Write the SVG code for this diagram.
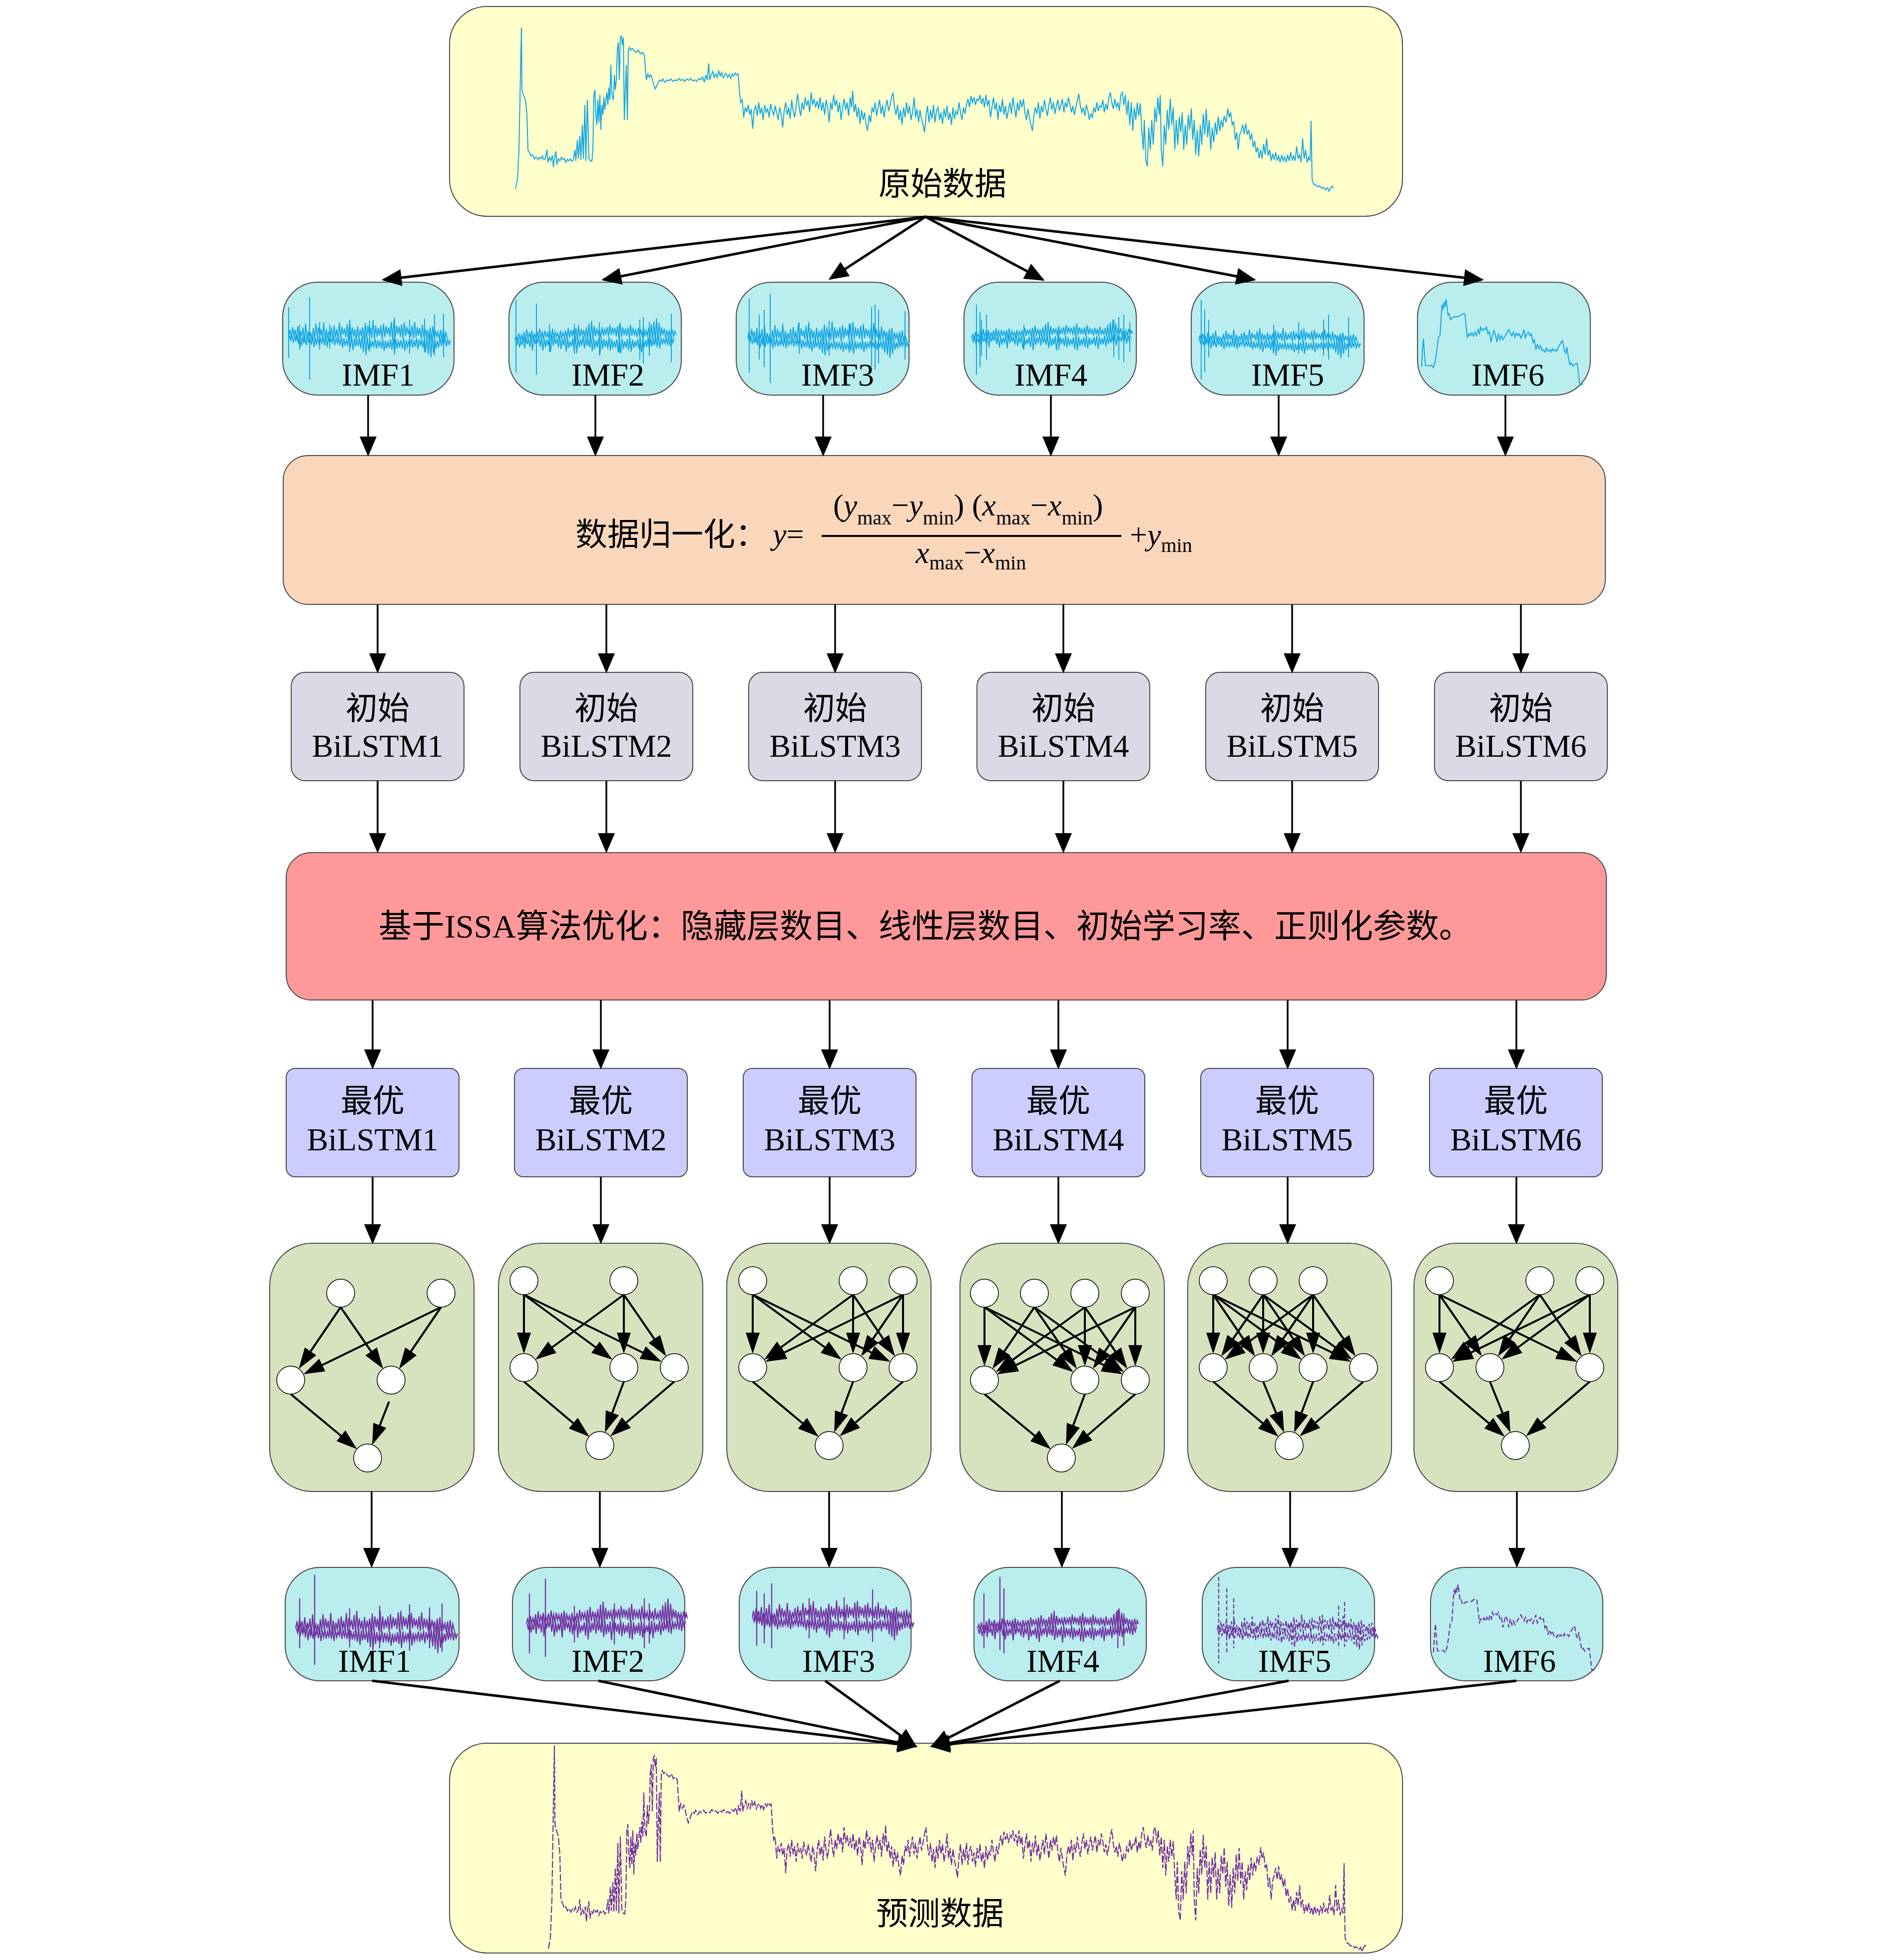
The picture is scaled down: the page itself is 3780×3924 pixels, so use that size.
<svg xmlns="http://www.w3.org/2000/svg" xmlns:xlink="http://www.w3.org/1999/xlink" width="3780" height="3924" viewBox="0 0 3780 3924">
<defs>
<style>
.box{stroke:#4a4a4a;stroke-width:2}
.yel{fill:#FFFFCC}.cyan{fill:#BAEDED}.peach{fill:#FAD7BB}.lav{fill:#DCD8E6}.red{fill:#FF9999}.blu{fill:#CCCCFF}.grn{fill:#D7E3BF}
.t{font-family:"Liberation Serif","Noto Sans CJK SC",serif;fill:#000}
.c{text-anchor:middle}
.i{font-style:italic}
.wb{fill:none;stroke:#12A5E3;stroke-width:2}
.wp{fill:none;stroke:#7030A0;stroke-width:2.2}
.node{fill:#fff;stroke:#000;stroke-width:1.5}
.nn line{stroke:#000;stroke-width:4}
.conn line{stroke:#000;stroke-width:3.5}
.conn .k{stroke-width:5}
</style>
<marker id="ah" markerUnits="userSpaceOnUse" markerWidth="40" markerHeight="34" refX="36" refY="17" orient="auto"><path d="M0,0 L40,17 L0,34 z" fill="#000"/></marker>
<marker id="nh" markerUnits="userSpaceOnUse" markerWidth="42" markerHeight="28" refX="37" refY="14" orient="auto"><path d="M0,0 L42,14 L0,28 z" fill="#000"/></marker>
<path id="n1" d="M0,0l2.6,-10 2.6,14 2.6,-18 2.6,12 2.6,-8 2.6,16 2.6,-22 2.6,20 2.6,-12 2.6,9 2.6,-15 2.6,24 2.6,-30 2.6,26 2.6,-14 2.6,11 2.6,-9 2.6,13 2.6,-20 2.6,18 2.6,-25 2.6,22 2.6,-16 2.6,14 2.6,-11 2.6,17 2.6,-28 2.6,30 2.6,-19 2.6,15 2.6,-12 2.6,10 2.6,-16 2.6,21 2.6,-24 2.6,19 2.6,-13 2.6,16 2.6,-27 2.6,25 2.6,-18 2.6,12 2.6,-9 2.6,14 2.6,-21 2.6,26 2.6,-32 2.6,28 2.6,-17 2.6,15 2.6,-12 2.6,18 2.6,-23 2.6,20 2.6,-15 2.6,11 2.6,-14 2.6,19 2.6,-26 2.6,24 2.6,-20 2.6,16 2.6,-13 2.6,17 2.6,-29 2.6,31 2.6,-22 2.6,18 2.6,-14 2.6,12 2.6,-16 2.6,22 2.6,-25 2.6,21 2.6,-17 2.6,13 2.6,-11 2.6,15 2.6,-24 2.6,28 2.6,-30 2.6,27 2.6,-19 2.6,14 2.6,-12 2.6,16 2.6,-20 2.6,23 2.6,-26 2.6,22 2.6,-15 2.6,12 2.6,-10 2.6,14 2.6,-18 2.6,21 2.6,-27 2.6,25 2.6,-16 2.6,13 2.6,-12 2.6,17 2.6,-22 2.6,20 2.6,-14 2.6,11 2.6,-9 2.6,15 2.6,-19 2.6,22 2.6,-24 2.6,20 2.6,-13 2.6,10 2.6,-8 2.6,12 2.6,-15 2.6,18 2.6,-20 2.6,17 2.6,-11 2.6,9"/>
<path id="n2" d="M0,0l2.6,-6 2.6,8 2.6,-12 2.6,10 2.6,-7 2.6,9 2.6,-14 2.6,16 2.6,-20 2.6,15 2.6,-9 2.6,7 2.6,-11 2.6,13 2.6,-8 2.6,6 2.6,-10 2.6,12 2.6,-16 2.6,14 2.6,-9 2.6,11 2.6,-13 2.6,10 2.6,-7 2.6,9 2.6,-12 2.6,15 2.6,-18 2.6,16 2.6,-11 2.6,8 2.6,-6 2.6,10 2.6,-14 2.6,12 2.6,-9 2.6,7 2.6,-10 2.6,13 2.6,-17 2.6,15 2.6,-12 2.6,9 2.6,-8 2.6,11 2.6,-15 2.6,18 2.6,-22 2.6,19 2.6,-13 2.6,10 2.6,-9 2.6,12 2.6,-16 2.6,20 2.6,-26 2.6,30 2.6,-34 2.6,28 2.6,-20 2.6,16 2.6,-12 2.6,9 2.6,-8 2.6,12 2.6,-15 2.6,13 2.6,-10 2.6,8 2.6,-11 2.6,14 2.6,-18 2.6,16 2.6,-12 2.6,10 2.6,-9 2.6,13 2.6,-16 2.6,19 2.6,-24 2.6,22 2.6,-15 2.6,11 2.6,-8 2.6,10 2.6,-13 2.6,16 2.6,-20 2.6,17 2.6,-11 2.6,9 2.6,-7 2.6,11 2.6,-14 2.6,12 2.6,-10 2.6,13 2.6,-17 2.6,15 2.6,-9 2.6,8 2.6,-12 2.6,16 2.6,-22 2.6,26 2.6,-30 2.6,33 2.6,-38 2.6,35 2.6,-28 2.6,22 2.6,-15 2.6,12 2.6,-10 2.6,14 2.6,-12 2.6,9 2.6,-7 2.6,10 2.6,-13 2.6,11 2.6,-8 2.6,6"/>
<path id="raw" vector-effect="non-scaling-stroke" d="M1032,378 1036,360 1039,300 1042,150 1044,55 1045,180 1048,190 1052,200 1055,230 1057,300 1060,305 1063,312 1066,310 1070,318 1073,314 1077,320 1080,315 1083,318 1086,312 1089,320 1092,316 1095,300 1097,325 1100,315 1103,322 1106,311 1108,335 1110,318 1113,303 1115,330 1118,318 1121,322 1124,315 1127,320 1130,317 1133,325 1136,319 1139,322 1142,318 1145,323 1148,320 1151,300 1153,322 1156,280 1158,318 1161,272 1163,320 1166,250 1168,318 1171,210 1173,322 1176,200 1179,318 1182,322 1185,323 1187,300 1189,190 1191,180 1193,230 1195,250 1197,200 1199,245 1201,190 1203,260 1205,210 1207,230 1209,195 1211,220 1213,200 1215,185 1217,210 1219,175 1221,200 1223,130 1225,190 1228,200 1230,150 1232,180 1234,160 1236,100 1238,85 1240,160 1242,75 1244,72 1246,90 1248,75 1250,240 1252,180 1254,130 1256,240 1258,100 1260,95 1263,100 1266,97 1270,102 1274,105 1278,100 1282,108 1286,105 1290,110 1294,160 1297,148 1300,155 1303,150 1306,158 1309,170 1312,178 1315,172 1318,165 1321,160 1324,163 1327,158 1331,165 1335,160 1339,162 1343,158 1347,163 1351,160 1355,162 1359,157 1363,161 1367,159 1371,163 1375,158 1379,161 1383,157 1387,162 1391,160 1395,163 1399,157 1403,160 1407,154 1410,165 1413,150 1416,160 1419,127 1421,160 1424,150 1427,143 1430,155 1433,148 1436,155 1439,142 1442,152 1445,145 1448,156 1451,150 1454,147 1457,155 1460,149 1463,157 1466,148 1469,152 1472,146 1475,150 1478,148 1481,190 1483,205 1486,200 1489,235 1492,215 1495,225 1498,210 1501,230 1504,218 1507,258 1510,220 1513,212 1516,232 1519,205 1522,228 1525,215 1528,240 1531,210 1534,225 1537,218 1540,235 1543,208 1546,222 1549,230 1552,212 1555,226 1558,240 1561,215 1564,228 1567,255 1570,222 1573,205 1576,230 1579,215 1582,238 1585,200 1588,222 1591,235 1594,210 1597,188 1600,215 1603,232 1606,205 1609,220 1612,195 1615,212 1618,200 1621,225 1624,185 1627,210 1630,198 1633,215 1636,202 1639,218 1642,195 1645,222 1648,205 1651,230 1654,200 1657,215 1660,245 1663,205 1666,220 1669,190 1672,212 1675,200 1678,225 1681,205 1684,240 1687,215 1690,198 1693,220 1696,205 1699,232 1702,195 1705,215 1707,182 1710,225 1713,208 1716,235 1719,215 1722,248 1725,220 1728,240 1731,225 1734,250 1737,262 1740,230 1743,245 1746,215 1749,225 1752,205 1755,232 1758,215 1761,200 1764,228 1767,210 1770,235 1773,215 1776,200 1779,222 1782,210 1785,195 1788,185 1791,215 1794,230 1797,210 1800,240 1803,220 1806,250 1809,215 1812,235 1815,205 1818,228 1821,212 1824,240 1827,225 1830,195 1833,235 1836,218 1839,245 1842,220 1845,238 1848,250 1851,265 1854,232 1857,212 1860,245 1863,220 1866,238 1869,210 1872,245 1875,222 1878,215 1881,240 1884,225 1887,248 1890,218 1893,235 1896,212 1899,240 1902,225 1905,250 1908,215 1911,238 1914,222 1917,230 1920,205 1923,225 1926,240 1929,215 1932,228 1935,210 1938,198 1941,215 1944,192 1947,205 1950,195 1953,210 1956,198 1959,202 1962,190 1965,208 1968,196 1971,215 1974,190 1977,212 1980,200 1983,235 1986,215 1989,195 1992,220 1995,205 1998,240 2001,210 2004,225 2007,198 2010,230 2013,212 2016,238 2019,220 2022,205 2025,228 2028,195 2031,215 2034,235 2037,205 2040,222 2043,200 2046,215 2049,198 2052,225 2055,240 2058,218 2061,235 2064,250 2067,262 2070,230 2073,215 2076,228 2079,205 2082,238 2085,212 2088,225 2091,200 2094,218 2097,232 2100,210 2103,195 2106,220 2109,205 2112,228 2115,212 2118,200 2121,222 2124,210 2127,198 2130,225 2133,205 2136,215 2139,195 2142,208 2145,225 2148,212 2151,230 2154,215 2157,200 2160,188 2163,212 2166,225 2169,215 2172,232 2175,210 2178,222 2181,240 2184,228 2187,235 2190,215 2193,225 2196,205 2199,222 2202,212 2205,215 2208,200 2211,225 2214,208 2217,220 2220,195 2223,185 2226,205 2229,218 2232,198 2235,215 2238,205 2241,222 2244,190 2247,185 2250,210 2253,190 2256,230 2259,200 2262,250 2265,205 2268,262 2271,215 2274,240 2277,205 2280,232 2283,207 2286,260 2289,300 2291,240 2294,320 2297,333 2300,255 2303,300 2306,240 2309,290 2312,215 2315,245 2318,195 2321,230 2323,190 2325,300 2328,333 2331,250 2334,290 2337,220 2340,260 2343,197 2346,250 2349,215 2352,300 2355,240 2358,290 2361,233 2364,265 2367,225 2370,300 2373,250 2376,290 2379,230 2382,260 2385,217 2388,280 2391,240 2394,310 2397,260 2400,313 2403,250 2406,290 2409,228 2412,270 2415,218 2418,275 2421,240 2424,300 2427,255 2430,285 2433,245 2436,270 2439,233 2442,262 2445,240 2448,255 2451,232 2455,245 2458,217 2461,235 2464,225 2467,250 2470,243 2473,280 2476,265 2479,300 2482,270 2485,262 2488,250 2491,268 2494,247 2497,270 2500,260 2503,280 2506,267 2509,295 2512,282 2515,305 2518,295 2521,317 2524,300 2527,318 2530,288 2533,310 2536,277 2539,312 2542,300 2545,322 2548,308 2551,320 2554,305 2557,322 2560,312 2563,325 2566,310 2569,322 2572,314 2575,325 2578,310 2581,322 2584,305 2587,320 2590,312 2593,322 2596,293 2599,318 2602,310 2605,325 2608,277 2611,318 2614,300 2617,325 2620,315 2623,322 2625,242 2627,360 2630,368 2634,370 2638,374 2642,372 2646,377 2650,375 2654,380 2658,376 2661,383 2664,376 2667,373 2670,377"/>
<path id="trend" d="M2846,735 2848,700 2850,678 2852,710 2854,732 2860,733 2866,731 2870,736 2873,725 2876,707 2878,690 2880,675 2883,672 2885,640 2887,610 2889,620 2891,605 2893,615 2895,599 2897,612 2899,630 2901,628 2904,640 2908,636 2912,634 2918,634 2922,633 2926,630 2929,628 2933,629 2935,650 2938,675 2941,668 2944,672 2947,666 2950,673 2953,665 2956,672 2959,660 2962,668 2964,655 2967,662 2970,658 2973,660 2976,655 2979,668 2982,664 2985,685 2988,672 2991,662 2994,670 2997,685 3000,668 3003,680 3006,672 3009,680 3012,675 3015,670 3018,664 3021,660 3024,667 3027,672 3030,665 3033,675 3036,667 3039,672 3042,668 3045,677 3048,670 3051,660 3054,676 3057,668 3060,665 3063,672 3066,668 3069,686 3072,680 3075,700 3078,690 3081,698 3084,692 3087,702 3090,700 3093,705 3096,697 3099,703 3102,700 3105,705 3108,698 3111,703 3114,700 3117,703 3120,695 3123,690 3126,685 3128,682 3130,690 3132,702 3135,707 3137,695 3140,715 3143,730 3146,727 3149,733 3152,730 3155,728 3158,727 3160,745 3163,770 3166,771 3170,768"/>
</defs>

<!-- raw data -->
<g id="raw-data">
<rect class="box yel" x="900" y="13" width="1908" height="420" rx="75" ry="75"/>
<use href="#raw" class="wb"/>
<text class="t c" x="1887" y="390" font-size="64">原始数据</text>
</g>

<!-- top IMFs -->
<g id="imf1-top">
<rect class="box cyan" x="566" y="565" width="343" height="226" rx="70" ry="70"/>
<g class="wb"><use href="#n1" transform="translate(578,673) scale(1,1.25)"/><use href="#n2" transform="translate(579.3,673) scale(1,-1.3)"/><path d="M620,595V760M578,615V717M888,628V715M600,650V700M700,640V705M790,635V710M850,638V706M640,645V700M660,650V698M740,642V704M820,640V708M870,630V712"/></g>
<text class="t c" x="757" y="772" font-size="64">IMF1</text>
</g>
<g id="imf2-top">
<rect class="box cyan" x="1019" y="565" width="345" height="226" rx="70" ry="70"/>
<g class="wb"><use href="#n2" transform="translate(1031,680) scale(1,1.3)"/><use href="#n1" transform="translate(1032.3,680) scale(1,-1.1)"/><path d="M1074,608V750M1033,600V745M1281,640V720M1288,635V728M1344,628V725M1300,645V712M1100,650V705M1150,648V708M1200,645V712M1240,650V706"/></g>
<text class="t c" x="1217" y="772" font-size="64">IMF2</text>
</g>
<g id="imf3-top">
<rect class="box cyan" x="1474" y="565" width="346" height="226" rx="70" ry="70"/>
<g class="wb"><use href="#n1" transform="translate(1497,677) scale(1,1.3)"/><use href="#n2" transform="translate(1498.3,677) scale(1,-1.2)"/><path d="M1542,588V767M1500,598V746M1745,615V733M1752,610V740M1759,620V728M1812,623V720M1520,630V720M1530,620V735M1600,645V708M1660,642V712M1700,648V706"/></g>
<text class="t c" x="1677" y="772" font-size="64">IMF3</text>
</g>
<g id="imf4-top">
<rect class="box cyan" x="1930" y="565" width="345" height="226" rx="70" ry="70"/>
<g class="wb"><use href="#n2" transform="translate(1945,676) scale(1,1.1)"/><use href="#n1" transform="translate(1946.3,676) scale(1,-1)"/><path d="M1955,610V750M1962,625V735M1975,630V720M1965,640V712M2230,640V715M2240,635V720M2250,630V725M2262,645V705M2050,650V700M2120,652V700"/></g>
<text class="t c" x="2104" y="772" font-size="64">IMF4</text>
</g>
<g id="imf5-top">
<rect class="box cyan" x="2385" y="565" width="346" height="226" rx="70" ry="70"/>
<g class="wb"><use href="#n1" transform="translate(2400,680) scale(1,0.9)"/><use href="#n2" transform="translate(2401.3,680) scale(1,-1.1)"/><path d="M2405,600V760M2412,620V745M2420,640V715M2650,640V712M2660,630V720M2700,635V715M2550,650V705M2600,645V708"/></g>
<text class="t c" x="2578" y="772" font-size="64">IMF5</text>
</g>
<g id="imf6-top">
<rect class="box cyan" x="2838" y="565" width="346" height="226" rx="70" ry="70"/>
<use href="#trend" class="wb"/>
<text class="t c" x="3019" y="772" font-size="64">IMF6</text>
</g>

<!-- normalization -->
<g id="normalize">
<rect class="box peach" x="567" y="912" width="2647" height="298" rx="50" ry="50"/>
<text class="t" x="1152" y="1092" font-size="64">数据归一化：</text>
<text class="t" x="1547" y="1090" font-size="62"><tspan class="i">y</tspan>=</text>
<text class="t" x="1668" y="1032" font-size="62">(<tspan class="i">y</tspan><tspan y="1050" font-size="40">max</tspan><tspan y="1032">−</tspan><tspan class="i">y</tspan><tspan y="1050" font-size="40">min</tspan><tspan y="1032">) (</tspan><tspan class="i">x</tspan><tspan y="1050" font-size="40">max</tspan><tspan y="1032">−</tspan><tspan class="i">x</tspan><tspan y="1050" font-size="40">min</tspan><tspan y="1032">)</tspan></text>
<line x1="1645" y1="1073" x2="2245" y2="1073" stroke="#000" stroke-width="4"/>
<text class="t" x="1833" y="1127" font-size="62"><tspan class="i">x</tspan><tspan y="1140" font-size="40">max</tspan><tspan y="1127">−</tspan><tspan class="i">x</tspan><tspan y="1140" font-size="40">min</tspan></text>
<text class="t" x="2262" y="1091" font-size="62">+<tspan class="i">y</tspan><tspan y="1105" font-size="40">min</tspan></text>
</g>

<!-- initial BiLSTM -->
<g id="init1"><rect class="box lav" x="583" y="1346" width="346" height="217" rx="28" ry="28"/><text class="t c" x="756" y="1440" font-size="64">初始</text><text class="t c" x="756" y="1515" font-size="64">BiLSTM1</text></g>
<g id="init2"><rect class="box lav" x="1041" y="1346" width="346" height="217" rx="28" ry="28"/><text class="t c" x="1214" y="1440" font-size="64">初始</text><text class="t c" x="1214" y="1515" font-size="64">BiLSTM2</text></g>
<g id="init3"><rect class="box lav" x="1499" y="1346" width="346" height="217" rx="28" ry="28"/><text class="t c" x="1672" y="1440" font-size="64">初始</text><text class="t c" x="1672" y="1515" font-size="64">BiLSTM3</text></g>
<g id="init4"><rect class="box lav" x="1956" y="1346" width="346" height="217" rx="28" ry="28"/><text class="t c" x="2129" y="1440" font-size="64">初始</text><text class="t c" x="2129" y="1515" font-size="64">BiLSTM4</text></g>
<g id="init5"><rect class="box lav" x="2414" y="1346" width="346" height="217" rx="28" ry="28"/><text class="t c" x="2587" y="1440" font-size="64">初始</text><text class="t c" x="2587" y="1515" font-size="64">BiLSTM5</text></g>
<g id="init6"><rect class="box lav" x="2872" y="1346" width="346" height="217" rx="28" ry="28"/><text class="t c" x="3045" y="1440" font-size="64">初始</text><text class="t c" x="3045" y="1515" font-size="64">BiLSTM6</text></g>

<!-- ISSA optimisation -->
<g id="issa">
<rect class="box red" x="573" y="1707" width="2643" height="295" rx="50" ry="50"/>
<text class="t" x="758" y="1877" font-size="66">基于ISSA算法优化：隐藏层数目、线性层数目、初始学习率、正则化参数。</text>
</g>

<!-- optimal BiLSTM -->
<g id="opt1"><rect class="box blu" x="573" y="2139" width="346" height="217" rx="18" ry="18"/><text class="t c" x="746" y="2226" font-size="64">最优</text><text class="t c" x="746" y="2303" font-size="64">BiLSTM1</text></g>
<g id="opt2"><rect class="box blu" x="1030" y="2139" width="346" height="217" rx="18" ry="18"/><text class="t c" x="1203" y="2226" font-size="64">最优</text><text class="t c" x="1203" y="2303" font-size="64">BiLSTM2</text></g>
<g id="opt3"><rect class="box blu" x="1488" y="2139" width="346" height="217" rx="18" ry="18"/><text class="t c" x="1661" y="2226" font-size="64">最优</text><text class="t c" x="1661" y="2303" font-size="64">BiLSTM3</text></g>
<g id="opt4"><rect class="box blu" x="1946" y="2139" width="346" height="217" rx="18" ry="18"/><text class="t c" x="2119" y="2226" font-size="64">最优</text><text class="t c" x="2119" y="2303" font-size="64">BiLSTM4</text></g>
<g id="opt5"><rect class="box blu" x="2404" y="2139" width="346" height="217" rx="18" ry="18"/><text class="t c" x="2577" y="2226" font-size="64">最优</text><text class="t c" x="2577" y="2303" font-size="64">BiLSTM5</text></g>
<g id="opt6"><rect class="box blu" x="2862" y="2139" width="346" height="217" rx="18" ry="18"/><text class="t c" x="3035" y="2226" font-size="64">最优</text><text class="t c" x="3035" y="2303" font-size="64">BiLSTM6</text></g>

<!-- network illustrations -->
<g id="net1">
<rect class="box grn" x="540" y="2489" width="409" height="497" rx="85" ry="85"/>
<g class="nn" marker-end="url(#nh)">
<line x1="682" y1="2617" x2="601" y2="2736"/><line x1="682" y1="2617" x2="764" y2="2736"/><line x1="883" y1="2617" x2="612" y2="2749"/><line x1="883" y1="2617" x2="802" y2="2736"/><line x1="582" y1="2791" x2="711" y2="2898"/><line x1="779" y1="2806" x2="747" y2="2888"/>
</g>
<circle class="node" cx="682" cy="2589" r="28"/><circle class="node" cx="883" cy="2589" r="28"/><circle class="node" cx="582" cy="2763" r="28"/><circle class="node" cx="783" cy="2763" r="28"/><circle class="node" cx="736" cy="2919" r="28"/>
</g>
<g id="net2">
<rect class="box grn" x="998" y="2489" width="409" height="497" rx="85" ry="85"/>
<g class="nn" marker-end="url(#nh)">
<line x1="1049" y1="2592" x2="1049" y2="2705"/><line x1="1049" y1="2592" x2="1222" y2="2719"/><line x1="1049" y1="2592" x2="1320" y2="2724"/><line x1="1249" y1="2592" x2="1076" y2="2719"/><line x1="1249" y1="2592" x2="1249" y2="2705"/><line x1="1249" y1="2592" x2="1331" y2="2711"/><line x1="1049" y1="2766" x2="1176" y2="2873"/><line x1="1249" y1="2766" x2="1213" y2="2863"/><line x1="1350" y1="2766" x2="1226" y2="2872"/>
</g>
<circle class="node" cx="1049" cy="2564" r="28"/><circle class="node" cx="1249" cy="2564" r="28"/><circle class="node" cx="1049" cy="2738" r="28"/><circle class="node" cx="1249" cy="2738" r="28"/><circle class="node" cx="1350" cy="2738" r="28"/><circle class="node" cx="1201" cy="2894" r="28"/>
</g>
<g id="net3">
<rect class="box grn" x="1455" y="2489" width="409" height="497" rx="85" ry="85"/>
<g class="nn" marker-end="url(#nh)">
<line x1="1507" y1="2592" x2="1507" y2="2705"/><line x1="1507" y1="2592" x2="1681" y2="2719"/><line x1="1507" y1="2592" x2="1778" y2="2724"/><line x1="1708" y1="2592" x2="1534" y2="2719"/><line x1="1708" y1="2592" x2="1708" y2="2705"/><line x1="1708" y1="2592" x2="1789" y2="2711"/><line x1="1808" y1="2592" x2="1537" y2="2724"/><line x1="1808" y1="2592" x2="1727" y2="2711"/><line x1="1808" y1="2592" x2="1808" y2="2705"/><line x1="1507" y1="2766" x2="1635" y2="2873"/><line x1="1708" y1="2766" x2="1672" y2="2863"/><line x1="1808" y1="2766" x2="1685" y2="2872"/>
</g>
<circle class="node" cx="1507" cy="2564" r="28"/><circle class="node" cx="1708" cy="2564" r="28"/><circle class="node" cx="1808" cy="2564" r="28"/><circle class="node" cx="1507" cy="2738" r="28"/><circle class="node" cx="1708" cy="2738" r="28"/><circle class="node" cx="1808" cy="2738" r="28"/><circle class="node" cx="1660" cy="2894" r="28"/>
</g>
<g id="net4">
<rect class="box grn" x="1922" y="2489" width="409" height="497" rx="85" ry="85"/>
<g class="nn" marker-end="url(#nh)">
<line x1="1971" y1="2617" x2="1971" y2="2730"/><line x1="1971" y1="2617" x2="2145" y2="2744"/><line x1="1971" y1="2617" x2="2243" y2="2749"/><line x1="2071" y1="2617" x2="1990" y2="2736"/><line x1="2071" y1="2617" x2="2153" y2="2736"/><line x1="2071" y1="2617" x2="2246" y2="2744"/><line x1="2172" y1="2617" x2="1998" y2="2744"/><line x1="2172" y1="2617" x2="2172" y2="2730"/><line x1="2172" y1="2617" x2="2254" y2="2736"/><line x1="2273" y1="2617" x2="2001" y2="2749"/><line x1="2273" y1="2617" x2="2191" y2="2736"/><line x1="2273" y1="2617" x2="2273" y2="2730"/><line x1="1971" y1="2791" x2="2100" y2="2898"/><line x1="2172" y1="2791" x2="2136" y2="2888"/><line x1="2273" y1="2791" x2="2150" y2="2897"/>
</g>
<circle class="node" cx="1971" cy="2589" r="28"/><circle class="node" cx="2071" cy="2589" r="28"/><circle class="node" cx="2172" cy="2589" r="28"/><circle class="node" cx="2273" cy="2589" r="28"/><circle class="node" cx="1971" cy="2763" r="28"/><circle class="node" cx="2172" cy="2763" r="28"/><circle class="node" cx="2273" cy="2763" r="28"/><circle class="node" cx="2125" cy="2919" r="28"/>
</g>
<g id="net5">
<rect class="box grn" x="2378" y="2489" width="408" height="497" rx="85" ry="85"/>
<g class="nn" marker-end="url(#nh)">
<line x1="2429" y1="2592" x2="2429" y2="2705"/><line x1="2429" y1="2592" x2="2510" y2="2711"/><line x1="2429" y1="2592" x2="2602" y2="2719"/><line x1="2429" y1="2592" x2="2700" y2="2724"/><line x1="2529" y1="2592" x2="2448" y2="2711"/><line x1="2529" y1="2592" x2="2529" y2="2705"/><line x1="2529" y1="2592" x2="2610" y2="2711"/><line x1="2529" y1="2592" x2="2703" y2="2719"/><line x1="2629" y1="2592" x2="2456" y2="2719"/><line x1="2629" y1="2592" x2="2548" y2="2711"/><line x1="2629" y1="2592" x2="2629" y2="2705"/><line x1="2629" y1="2592" x2="2711" y2="2711"/><line x1="2429" y1="2766" x2="2556" y2="2873"/><line x1="2529" y1="2766" x2="2569" y2="2863"/><line x1="2629" y1="2766" x2="2593" y2="2863"/><line x1="2730" y1="2766" x2="2606" y2="2872"/>
</g>
<circle class="node" cx="2429" cy="2564" r="28"/><circle class="node" cx="2529" cy="2564" r="28"/><circle class="node" cx="2629" cy="2564" r="28"/><circle class="node" cx="2429" cy="2738" r="28"/><circle class="node" cx="2529" cy="2738" r="28"/><circle class="node" cx="2629" cy="2738" r="28"/><circle class="node" cx="2730" cy="2738" r="28"/><circle class="node" cx="2581" cy="2894" r="28"/>
</g>
<g id="net6">
<rect class="box grn" x="2831" y="2489" width="408" height="497" rx="85" ry="85"/>
<g class="nn" marker-end="url(#nh)">
<line x1="2882" y1="2592" x2="2882" y2="2705"/><line x1="2882" y1="2592" x2="2964" y2="2711"/><line x1="2882" y1="2592" x2="3153" y2="2724"/><line x1="3083" y1="2592" x2="2909" y2="2719"/><line x1="3083" y1="2592" x2="3002" y2="2711"/><line x1="3083" y1="2592" x2="3164" y2="2711"/><line x1="3183" y1="2592" x2="2912" y2="2724"/><line x1="3183" y1="2592" x2="3010" y2="2719"/><line x1="3183" y1="2592" x2="3183" y2="2705"/><line x1="2882" y1="2766" x2="3009" y2="2873"/><line x1="2983" y1="2766" x2="3022" y2="2863"/><line x1="3183" y1="2766" x2="3059" y2="2872"/>
</g>
<circle class="node" cx="2882" cy="2564" r="28"/><circle class="node" cx="3083" cy="2564" r="28"/><circle class="node" cx="3183" cy="2564" r="28"/><circle class="node" cx="2882" cy="2738" r="28"/><circle class="node" cx="2983" cy="2738" r="28"/><circle class="node" cx="3183" cy="2738" r="28"/><circle class="node" cx="3034" cy="2894" r="28"/>
</g>

<!-- output IMFs -->
<g id="imf1-out">
<rect class="box cyan" x="571" y="3138" width="348" height="227" rx="70" ry="70"/>
<g class="wp"><use href="#n1" transform="translate(592,3260) scale(1,1.4)"/><use href="#n2" transform="translate(593.3,3260) scale(1,-1.5)"/><path d="M630,3153V3333M885,3210V3307M600,3200V3300M760,3215V3300M700,3220V3298M820,3212V3305M860,3218V3300"/></g>
<text class="t c" x="750" y="3347" font-size="64">IMF1</text>
</g>
<g id="imf2-out">
<rect class="box cyan" x="1026" y="3138" width="345" height="227" rx="70" ry="70"/>
<g class="wp"><use href="#n2" transform="translate(1054,3250) scale(1,1.5)"/><use href="#n1" transform="translate(1055.3,3250) scale(1,-1.3)"/><path d="M1092,3160V3317M1290,3200V3300M1060,3190V3310M1300,3210V3290M1150,3215V3288M1230,3210V3292"/></g>
<text class="t c" x="1217" y="3347" font-size="64">IMF2</text>
</g>
<g id="imf3-out">
<rect class="box cyan" x="1480" y="3138" width="344" height="227" rx="70" ry="70"/>
<g class="wp"><use href="#n1" transform="translate(1506,3238) scale(1,1.3)"/><use href="#n2" transform="translate(1507.3,3238) scale(1,-1.4)"/><path d="M1545,3170V3300M1747,3182V3287M1515,3185V3295M1530,3190V3290M1620,3200V3280M1690,3198V3282"/></g>
<text class="t c" x="1679" y="3347" font-size="64">IMF3</text>
</g>
<g id="imf4-out">
<rect class="box cyan" x="1950" y="3138" width="345" height="227" rx="70" ry="70"/>
<g class="wp"><use href="#n2" transform="translate(1957,3260) scale(1,1.2)"/><use href="#n1" transform="translate(1958.3,3260) scale(1,-1.1)"/><path d="M2002,3157V3303M2238,3223V3300M1970,3190V3300M2250,3230V3295M2010,3180V3310"/></g>
<text class="t c" x="2128" y="3347" font-size="64">IMF4</text>
</g>
<g id="imf5-out">
<rect class="box cyan" x="2407" y="3138" width="345" height="227" rx="70" ry="70"/>
<g class="wp" stroke-dasharray="8 4" stroke-width="1.6"><use href="#n1" transform="translate(2437,3263) scale(1,1.2)"/><use href="#n2" transform="translate(2438.3,3263) scale(1,-1.2)"/><path d="M2440,3157V3330M2456,3180V3310M2692,3207V3297M2470,3200V3300M2680,3215V3300"/></g>
<text class="t c" x="2592" y="3347" font-size="64">IMF5</text>
</g>
<g id="imf6-out">
<rect class="box cyan" x="2864" y="3138" width="345" height="227" rx="70" ry="70"/>
<use href="#trend" class="wp" transform="translate(24,2573)" stroke-dasharray="10 5" stroke-width="1.8"/>
<text class="t c" x="3042" y="3347" font-size="64">IMF6</text>
</g>

<!-- predicted data -->
<g id="predicted">
<rect class="box yel" x="900" y="3490" width="1908" height="420" rx="75" ry="75"/>
<use href="#raw" class="wp" transform="matrix(1 0 0 1.26 66 3425)" stroke-dasharray="14 4"/>
<text class="t c" x="1882" y="3853" font-size="64">预测数据</text>
</g>

<!-- connectors -->
<g id="connectors" class="conn" marker-end="url(#ah)">
<line class="k" x1="1853" y1="434" x2="768" y2="560"/>
<line class="k" x1="1853" y1="434" x2="1208" y2="560"/>
<line class="k" x1="1853" y1="434" x2="1662" y2="558"/>
<line class="k" x1="1853" y1="434" x2="2088" y2="560"/>
<line class="k" x1="1853" y1="434" x2="2511" y2="560"/>
<line class="k" x1="1853" y1="434" x2="2967" y2="560"/>
<line x1="737" y1="791" x2="737" y2="910"/>
<line x1="1192" y1="791" x2="1192" y2="910"/>
<line x1="1648" y1="791" x2="1648" y2="910"/>
<line x1="2104" y1="791" x2="2104" y2="910"/>
<line x1="2560" y1="791" x2="2560" y2="910"/>
<line x1="3014" y1="791" x2="3014" y2="910"/>
<line x1="756" y1="1210" x2="756" y2="1344"/>
<line x1="1214" y1="1210" x2="1214" y2="1344"/>
<line x1="1672" y1="1210" x2="1672" y2="1344"/>
<line x1="2129" y1="1210" x2="2129" y2="1344"/>
<line x1="2587" y1="1210" x2="2587" y2="1344"/>
<line x1="3045" y1="1210" x2="3045" y2="1344"/>
<line x1="756" y1="1563" x2="756" y2="1704"/>
<line x1="1214" y1="1563" x2="1214" y2="1704"/>
<line x1="1672" y1="1563" x2="1672" y2="1704"/>
<line x1="2129" y1="1563" x2="2129" y2="1704"/>
<line x1="2587" y1="1563" x2="2587" y2="1704"/>
<line x1="3045" y1="1563" x2="3045" y2="1704"/>
<line x1="746" y1="2002" x2="746" y2="2137"/>
<line x1="1203" y1="2002" x2="1203" y2="2137"/>
<line x1="1661" y1="2002" x2="1661" y2="2137"/>
<line x1="2119" y1="2002" x2="2119" y2="2137"/>
<line x1="2578" y1="2002" x2="2578" y2="2137"/>
<line x1="3036" y1="2002" x2="3036" y2="2137"/>
<line x1="746" y1="2356" x2="746" y2="2487"/>
<line x1="1203" y1="2356" x2="1203" y2="2487"/>
<line x1="1661" y1="2356" x2="1661" y2="2487"/>
<line x1="2119" y1="2356" x2="2119" y2="2487"/>
<line x1="2578" y1="2356" x2="2578" y2="2487"/>
<line x1="3036" y1="2356" x2="3036" y2="2487"/>
<line x1="744" y1="2986" x2="744" y2="3135"/>
<line x1="1201" y1="2986" x2="1201" y2="3135"/>
<line x1="1660" y1="2986" x2="1660" y2="3135"/>
<line x1="2126" y1="2986" x2="2126" y2="3135"/>
<line x1="2583" y1="2986" x2="2583" y2="3135"/>
<line x1="3037" y1="2986" x2="3037" y2="3135"/>
<line class="k" x1="745" y1="3365" x2="1833" y2="3496"/>
<line class="k" x1="1198" y1="3365" x2="1833" y2="3496"/>
<line class="k" x1="1652" y1="3365" x2="1833" y2="3496"/>
<line class="k" x1="2122" y1="3365" x2="1866" y2="3496"/>
<line class="k" x1="2580" y1="3365" x2="1866" y2="3496"/>
<line class="k" x1="3036" y1="3365" x2="1866" y2="3496"/>
</g>
</svg>
